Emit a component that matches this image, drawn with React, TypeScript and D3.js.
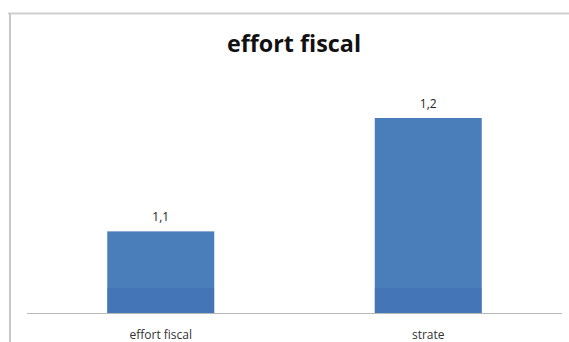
import React from "react";
import * as d3 from "d3";

const categories = ["effort fiscal", "strate"];
const values = [1.1, 1.2];
const valueLabels = ["1,1", "1,2"];
const title = "effort fiscal";

const W = 569;
const H = 342;

export default function App() {
  const x = d3
    .scaleBand<string>()
    .domain(categories)
    .range([27, 562])
    .paddingInner(0.6)
    .paddingOuter(0.3);
  const y = d3.scaleLinear().domain([1.028, 1.2]).range([313, 118]);
  const base = y(1.028);

  return (
    <svg
      width={W}
      height={H}
      style={{ position: "absolute", left: 0, top: 0, background: "#fff" }}
      fontFamily="'Open Sans', 'Liberation Sans', sans-serif"
    >
      <rect x={0} y={0} width={W} height={H} fill="#fff" />
      {/* chart frame */}
      <line x1={8} y1={13.5} x2={569} y2={13.5} stroke="#cfcfcf" strokeWidth={2} />
      <line x1={10} y1={13} x2={10} y2={342} stroke="#c8c8c8" strokeWidth={2} />
      {/* title */}
      <text
        x={294}
        y={52}
        textAnchor="middle"
        fontSize={24}
        fontWeight="bold"
        fill="#111"
        textLength={134}
        lengthAdjust="spacingAndGlyphs"
      >
        {title}
      </text>
      {/* bars */}
      {categories.map((c, i) => {
        const bx = x(c)!;
        const by = y(values[i]);
        return (
          <g key={c}>
            <rect x={bx} y={by} width={x.bandwidth()} height={base - by} fill="#4a7ebb" />
            <rect x={bx} y={288} width={x.bandwidth()} height={base - 288} fill="#3560b0" opacity={0.3} />
            <text
              x={bx + x.bandwidth() / 2}
              y={by - 10}
              textAnchor="middle"
              fontSize={12}
              fill="#222"
            >
              {valueLabels[i]}
            </text>
            <text
              x={bx + x.bandwidth() / 2}
              y={339}
              textAnchor="middle"
              fontSize={12}
              fill="#333"
            >
              {c}
            </text>
          </g>
        );
      })}
      {/* axis line */}
      <line x1={27} y1={313.5} x2={562} y2={313.5} stroke="#b8b8b8" strokeWidth={1} />
    </svg>
  );
}
